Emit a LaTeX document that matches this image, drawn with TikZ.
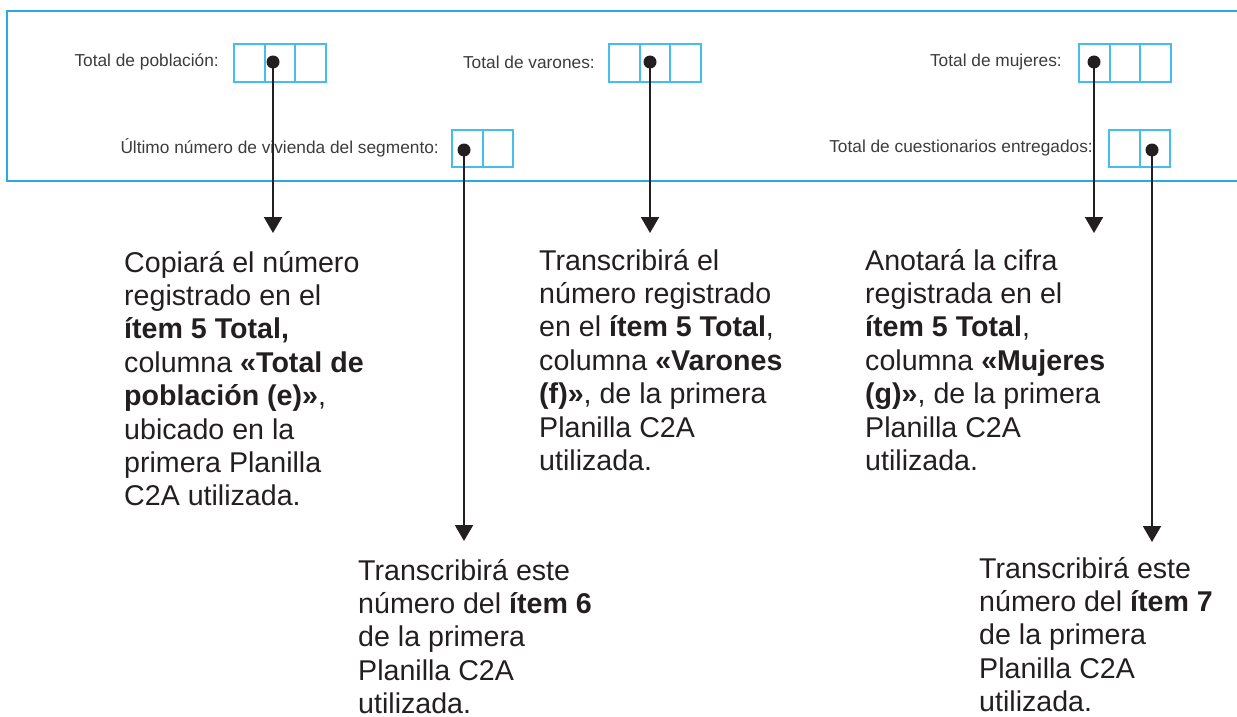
\documentclass[tikz,border=0pt]{standalone}
\usepackage{fontspec}
\setmainfont{Liberation Sans}
\usetikzlibrary{arrows.meta}
\definecolor{frameblue}{RGB}{41,171,226}
\definecolor{cellblue}{RGB}{70,190,235}
\definecolor{ink}{RGB}{35,31,32}
\definecolor{labelgray}{RGB}{60,60,60}
\tikzset{
  cell/.style={draw=cellblue, line width=1.6pt, minimum width=30.5pt, minimum height=37.5pt, inner sep=0pt},
  dot/.style={circle, fill=ink, minimum size=13pt, inner sep=0pt},
  formlabel/.style={anchor=east, inner sep=0pt, text=labelgray, font=\fontsize{17.3}{20}\selectfont},
  body/.style={anchor=base west, inner sep=0pt, text=ink, font=\fontsize{28.6}{33.4}\selectfont},
  pointer/.style={draw=ink, line width=2pt, -{Triangle[length=16pt,width=18pt]}},
}
\begin{document}
\begin{tikzpicture}[x=1pt,y=-1pt]
\useasboundingbox (0,0) rectangle (1237,717);
% frame
\draw[frameblue, line width=2pt] (1240,11) -- (7,11) -- (7,181) -- (1240,181);
% row 1 boxes
\node[cell] (p1) at (249.5,63) {};
\node[cell] (p2) at (280,63) {};
\node[cell] (p3) at (310.5,63) {};
\node[cell] (v1) at (624.5,63) {};
\node[cell] (v2) at (655,63) {};
\node[cell] (v3) at (685.5,63) {};
\node[cell] (m1) at (1094.5,63) {};
\node[cell] (m2) at (1125,63) {};
\node[cell] (m3) at (1155.5,63) {};
% row 2 boxes
\node[cell] (u1) at (467.5,148.5) {};
\node[cell] (u2) at (498,148.5) {};
\node[cell] (c1) at (1124.5,148.5) {};
\node[cell] (c2) at (1155,148.5) {};
% labels
\node[formlabel] (lp) at (219,62) {Total de población:};
\node[formlabel] (lv) at (595,62) {Total de varones:};
\node[formlabel] (lm) at (1062,62) {Total de mujeres:};
\node[formlabel] (lu) at (439,148) {Último número de vivienda del segmento:};
\node[formlabel] (lc) at (1093,148) {Total de cuestionarios entregados:};
% dots
\node[dot] (dp) at (273,62) {};
\node[dot] (dv) at (650,62) {};
\node[dot] (dm) at (1094,62) {};
\node[dot] (du) at (464,150) {};
\node[dot] (dc) at (1152,150) {};
% arrow tips
\coordinate (tp) at (273,233);
\coordinate (tv) at (650,233);
\coordinate (tm) at (1094,233);
\coordinate (tu) at (464,541);
\coordinate (tc) at (1152,542);
\draw[pointer] (dp.center) -- (tp);
\draw[pointer] (dv.center) -- (tv);
\draw[pointer] (dm.center) -- (tm);
\draw[pointer] (du.center) -- (tu);
\draw[pointer] (dc.center) -- (tc);
% body texts
\node[body] (bp) at (124,272) {\begin{tabular}[t]{@{}l@{}}
Copiará el número\\
registrado en el\\
\textbf{ítem 5 Total,}\\
columna \textbf{«Total de}\\
\textbf{población (e)»},\\
ubicado en la\\
primera Planilla\\
C2A utilizada.
\end{tabular}};
\node[body] (bv) at (539,270) {\begin{tabular}[t]{@{}l@{}}
Transcribirá el\\
número registrado\\
en el \textbf{ítem 5 Total},\\
columna \textbf{«Varones}\\
\textbf{(f)»}, de la primera\\
Planilla C2A\\
utilizada.
\end{tabular}};
\node[body] (bm) at (865,270) {\begin{tabular}[t]{@{}l@{}}
Anotará la cifra\\
registrada en el\\
\textbf{ítem 5 Total},\\
columna \textbf{«Mujeres}\\
\textbf{(g)»}, de la primera\\
Planilla C2A\\
utilizada.
\end{tabular}};
\node[body] (bu) at (358,580) {\begin{tabular}[t]{@{}l@{}}
Transcribirá este\\
número del \textbf{ítem 6}\\
de la primera\\
Planilla C2A\\
utilizada.
\end{tabular}};
\node[body] (bc) at (979,578) {\begin{tabular}[t]{@{}l@{}}
Transcribirá este\\
número del \textbf{ítem 7}\\
de la primera\\
Planilla C2A\\
utilizada.
\end{tabular}};
\end{tikzpicture}
\end{document}
